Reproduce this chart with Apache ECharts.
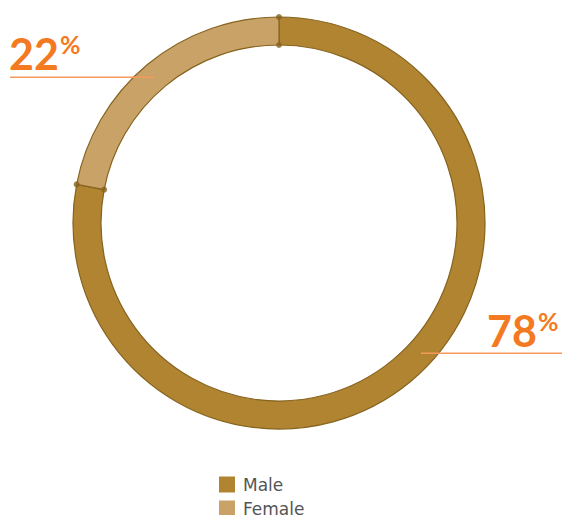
<!DOCTYPE html>
<html><head><meta charset="utf-8">
<script src="https://cdn.jsdelivr.net/npm/echarts@6/dist/echarts.min.js"></script>
<style>html,body{margin:0;padding:0;background:#fff}#c{width:562px;height:515px}</style>
</head><body>
<div id="c"></div>
<script>
const categories = ['Male', 'Female'];
const values = [78, 22];
const colors = ['#B08431', '#C9A267'];

const chart = echarts.init(document.getElementById('c'), null, { renderer: 'svg' });
const total = values.reduce((a, b) => a + b, 0);
const bounds = [];
let acc = 0;
values.forEach(v => { bounds.push(acc); acc += v; });
const dotData = [];
bounds.forEach(b => { dotData.push([178, b]); dotData.push([206, b]); });

const pctRich = {
  n: { fontSize: 43, fontWeight: 700, fill: '#F47A22', fontFamily: 'Lato', lineHeight: 44 },
  p: { fontSize: 25, fontWeight: 700, fill: '#F47A22', fontFamily: 'Lato', verticalAlign: 'top', padding: [0, 0, 18, 1] }
};
const pctStyle = (v) => ({
  text: '{n|' + v + '}{p|%}', rich: pctRich,
  fontFamily: 'Lato', fontWeight: 700, fontSize: 43, fill: '#F47A22'
});

const legendBase = {
  orient: 'vertical', left: 219, itemWidth: 16, itemHeight: 16,
  icon: 'rect', padding: 0,
  itemStyle: { borderWidth: 0 },
  textStyle: { fontSize: 17, color: '#555555', fontFamily: 'DejaVu Sans', padding: [0, 0, 0, 3] }
};

chart.setOption({
  animation: false,
  polar: { center: [279, 223], radius: 206 },
  angleAxis: { type: 'value', min: 0, max: total, startAngle: 90, clockwise: true, show: false },
  radiusAxis: { type: 'value', min: 0, max: 206, show: false },
  legend: categories.map((c, i) => Object.assign({}, legendBase, { top: 476 + i * 24, data: [c] })),
  graphic: [
    { type: 'rect', shape: { x: 10, y: 76.5, width: 144, height: 1.6 }, style: { fill: '#F59A5C', stroke: null, opacity: 1 }, z: 10 },
    { type: 'rect', shape: { x: 421, y: 352.5, width: 141, height: 1.6 }, style: { fill: '#F59A5C', stroke: null, opacity: 1 }, z: 10 },
    { type: 'text', left: 9, top: 31, z: 10, style: pctStyle(values[1]) },
    { type: 'text', left: 487, top: 308, z: 10, style: pctStyle(values[0]) }
  ],
  series: [
    {
      type: 'pie', center: [279, 223], radius: [178, 206], startAngle: 90, clockwise: true,
      label: { show: false }, labelLine: { show: false }, silent: true,
      itemStyle: { borderColor: '#86631F', borderWidth: 1.2 },
      data: categories.map((c, i) => ({ name: c, value: values[i], itemStyle: { color: colors[i] } }))
    },
    {
      type: 'scatter', coordinateSystem: 'polar', symbolSize: 6, silent: true,
      itemStyle: { color: '#86631F' }, data: dotData, z: 5
    }
  ]
});
</script></body></html>
